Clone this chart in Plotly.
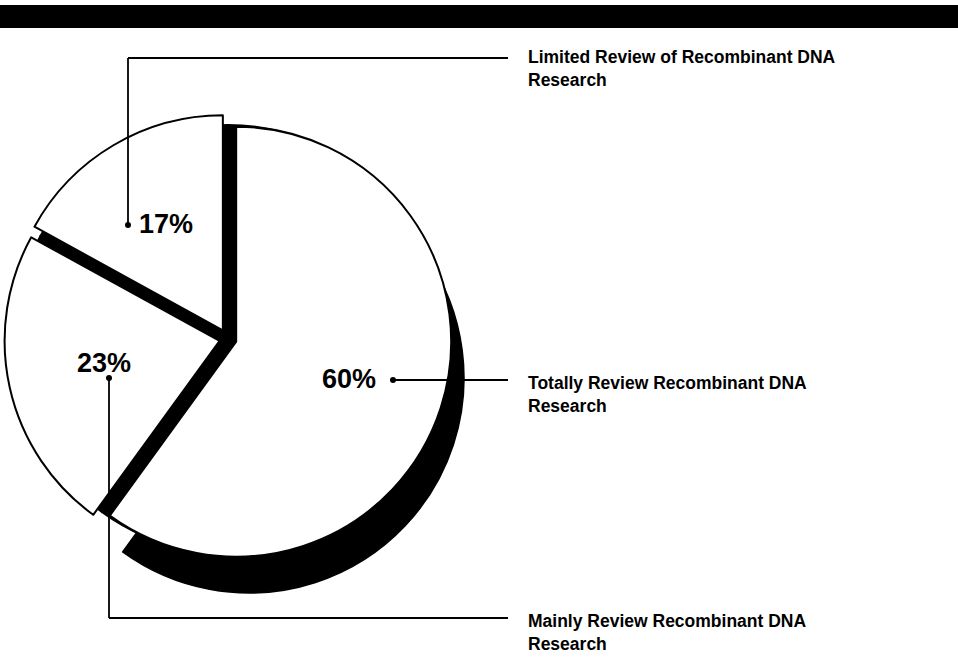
import plotly.graph_objects as go

# ---- data ----
categories = [
    "Totally Review Recombinant DNA Research",
    "Mainly Review Recombinant DNA Research",
    "Limited Review of Recombinant DNA Research",
]
values = [60, 23, 17]
pct_labels = ["60%", "23%", "17%"]
label_lines = [
    "Totally Review Recombinant DNA<br>Research",
    "Mainly Review Recombinant DNA<br>Research",
    "Limited Review of Recombinant DNA<br>Research",
]
explode = [0.040, 0.040, 0.047]

# ---- layout geometry (pixels) ----
W, H = 958, 664
CX, CY, R = 228, 339, 215
SDX, SDY = 21, 39
FONT = "Liberation Sans, Arial, Helvetica, sans-serif"
NONE = "rgba(0,0,0,0)"


def px(x):
    return x / W


def py(y):
    return 1 - y / H


def dom(cx, cy, half):
    return dict(x=[px(cx - half), px(cx + half)], y=[py(cy + half), py(cy - half)])


common = dict(values=values, labels=categories, sort=False, direction="clockwise",
              rotation=0, textinfo="none", hoverinfo="skip", showlegend=False)

fig = go.Figure()
# drop shadow of the large slice
fig.add_trace(go.Pie(**common, domain=dom(CX + SDX, CY + SDY, R),
                     marker=dict(colors=["black", NONE, NONE],
                                 line=dict(color=["black", NONE, NONE], width=1.5))))
# black base seen through the gaps between exploded slices
fig.add_trace(go.Pie(**common, domain=dom(CX, CY, R - 1),
                     marker=dict(colors=["black"] * 3, line=dict(color="black", width=2))))
# white slices
fig.add_trace(go.Pie(**common, domain=dom(CX, CY, R * (1 + max(explode))), pull=explode,
                     marker=dict(colors=["white"] * 3, line=dict(color="black", width=2))))

shapes = []
# top black band
shapes.append(dict(type="rect", xref="paper", yref="paper", x0=0, x1=1,
                   y0=py(28), y1=py(5), fillcolor="black", line=dict(width=0), layer="above"))


def seg(x0, y0, x1, y1):
    shapes.append(dict(type="line", xref="paper", yref="paper", x0=px(x0), y0=py(y0),
                       x1=px(x1), y1=py(y1), line=dict(color="black", width=1.8), layer="above"))


def dot(x, y, r=3):
    shapes.append(dict(type="circle", xref="paper", yref="paper", x0=px(x - r), x1=px(x + r),
                       y0=py(y + r), y1=py(y - r), fillcolor="black",
                       line=dict(color="black", width=0), layer="above"))


LINE_END = 508
TEXT_X = 526
# 60%
dot(393, 380)
seg(393, 380, LINE_END, 380)
# 23%
dot(109, 378)
seg(109, 378, 109, 618)
seg(109, 618, LINE_END, 618)
# 17%
dot(128, 225)
seg(128, 225, 128, 58)
seg(128, 58, LINE_END, 58)

annotations = []
pct_pos = [(378, 379, "right"), (104, 363, "center"), (137, 224, "left")]
for txt, (x, y, anc) in zip(pct_labels, pct_pos):
    annotations.append(dict(x=px(x), y=py(y), xref="paper", yref="paper", text="<b>" + txt + "</b>",
                            showarrow=False, xanchor=anc, yanchor="middle",
                            font=dict(family=FONT, size=27, color="black")))
label_y = [383, 621, 57]
for txt, y in zip(label_lines, label_y):
    annotations.append(dict(x=px(TEXT_X), y=py(y - 12), xref="paper", yref="paper",
                            text="<b>" + txt + "</b>", showarrow=False, xanchor="left",
                            yanchor="top", align="left",
                            font=dict(family=FONT, size=17.5, color="black")))

fig.update_layout(width=W, height=H, margin=dict(l=0, r=0, t=0, b=0),
                  paper_bgcolor="white", plot_bgcolor="white",
                  shapes=shapes, annotations=annotations)

fig.write_html("out.html", config={"displayModeBar": False},
               post_script="document.body.style.margin='0px';document.body.style.overflow='hidden';")
